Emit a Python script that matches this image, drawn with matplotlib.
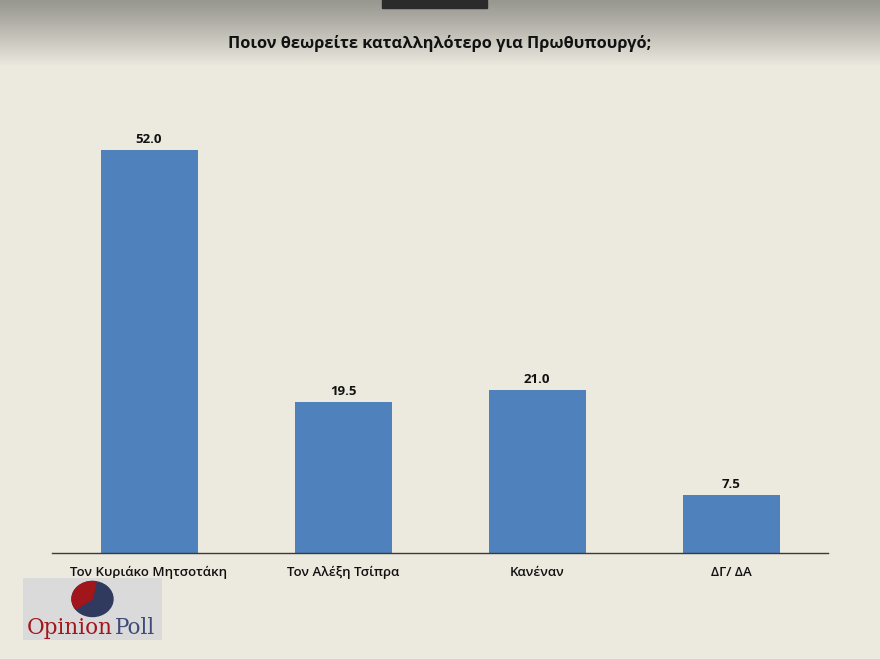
import matplotlib.pyplot as plt
import numpy as np
from matplotlib.patches import Rectangle, Wedge, Ellipse
from matplotlib.transforms import Affine2D

categories = ['Τον Κυριάκο Μητσοτάκη', 'Τον Αλέξη Τσίπρα', 'Κανέναν', 'ΔΓ/ ΔΑ']
values = [52.0, 19.5, 21.0, 7.5]
title = 'Ποιον θεωρείτε καταλληλότερο για Πρωθυπουργό;'

bg = '#ECE9DF'
bar_color = '#4F81BD'
W, H = 880, 659

fig = plt.figure(figsize=(8.8, 6.59), dpi=100, facecolor=bg)

# top gradient band
gax = fig.add_axes([0, 1 - 66 / H, 1, 66 / H])
grad = np.linspace(0, 1, 100).reshape(-1, 1)
top = np.array([0x98, 0x97, 0x90]) / 255
bot = np.array([0xEC, 0xE9, 0xDF]) / 255
img = top + (bot - top) * grad[..., None] ** 1.1
gax.imshow(img, aspect='auto', extent=[0, 1, 0, 1], origin='upper')
gax.axis('off')
gax.add_patch(Rectangle((382 / W, 1 - 8 / 66), 105 / W, 8 / 66, color='#2b2b2b',
                        transform=gax.transAxes, zorder=3))

# main axes
left, right = 52 / W, 828 / W
base_y = 553
ymax = 58.45
px_per_unit = 7.75
top_px = base_y - ymax * px_per_unit
ax = fig.add_axes([left, 1 - base_y / H, right - left, (base_y - top_px) / H])
ax.set_facecolor(bg)
x = np.arange(len(categories))
bars = ax.bar(x, values, width=0.5, color=bar_color, zorder=2)
ax.set_xlim(-0.5, len(categories) - 0.5)
ax.set_ylim(0, ymax)
for s in ['top', 'right', 'left']:
    ax.spines[s].set_visible(False)
ax.spines['bottom'].set_color('#3a3a3a')
ax.spines['bottom'].set_linewidth(1.0)
ax.set_yticks([])
ax.set_xticks(x)
ax.set_xticklabels(categories, fontsize=9.5, fontweight='semibold', color='#111111',
                   family=['Open Sans', 'DejaVu Sans'])
ax.tick_params(axis='x', length=0, pad=9)
for b, v in zip(bars, values):
    ax.text(b.get_x() + b.get_width() / 2, v + 0.5, f'{v:.1f}', ha='center', va='bottom',
            fontsize=9.5, fontweight='bold', color='#111111', family=['Open Sans', 'DejaVu Sans'])

fig.text(0.5, 1 - 43 / H, title, ha='center', va='center', fontsize=11.8, fontweight='bold',
         color='#111111', family=['Open Sans', 'DejaVu Sans'])

# logo
lax = fig.add_axes([23 / W, 1 - 640 / H, 139 / W, 62 / H])
lax.set_xlim(0, 139)
lax.set_ylim(0, 62)
lax.set_facecolor('#DADADA')
for s in lax.spines.values():
    s.set_visible(False)
lax.set_xticks([])
lax.set_yticks([])
lax.add_patch(Ellipse((69.5, 41), 41, 35, color='#2F3A5E'))
red = Wedge((0, 0), 1, 80, 215, color='#A0161A')
red.set_transform(Affine2D().scale(20.5, 17.5).translate(69.5, 41) + lax.transData)
lax.add_patch(red)
lax.text(4, 12, 'Opinion', color='#A0161A', fontsize=15.5, family='DejaVu Serif', va='center')
lax.text(92, 12, 'Poll', color='#3E4A78', fontsize=15.5, family='DejaVu Serif', va='center')

fig.savefig('out.png', dpi=100, facecolor=bg)
